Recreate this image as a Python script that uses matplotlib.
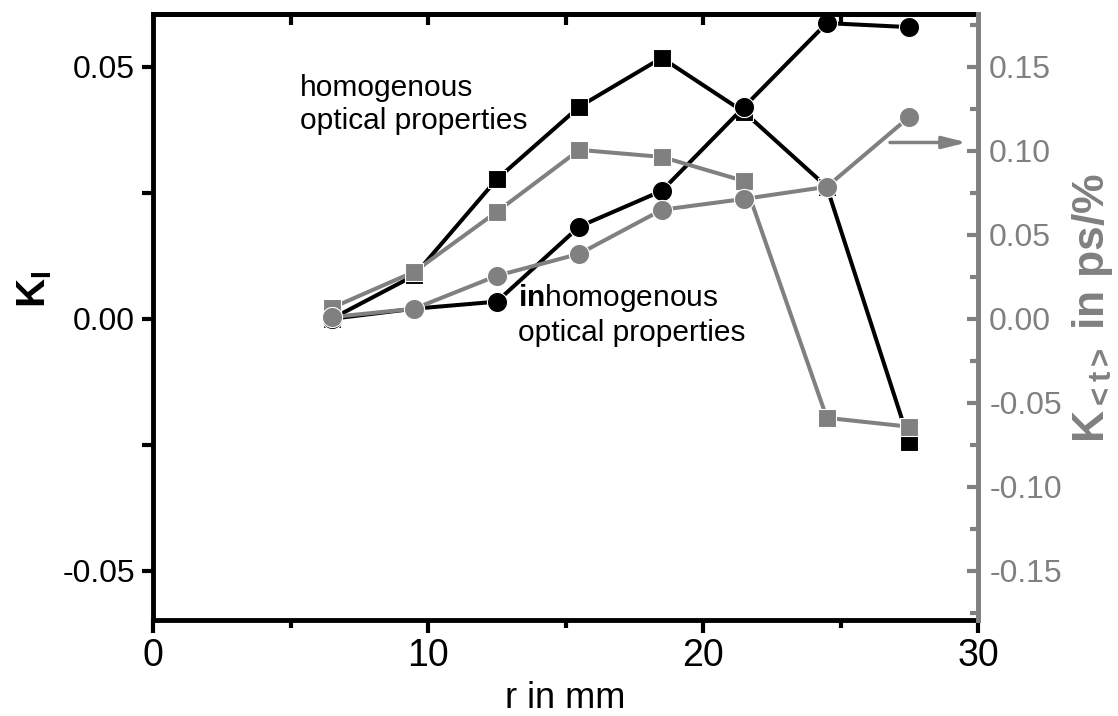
import numpy as np
import matplotlib.pyplot as plt
from matplotlib.ticker import FixedLocator, MultipleLocator, FormatStrFormatter

# radial distance of the detector positions
r = [6.5, 9.5, 12.5, 15.5, 18.5, 21.5, 24.5, 27.5]

# intensity coefficient K_I (left axis)
ki_hom = [0.0, 0.0086, 0.0277, 0.0421, 0.0518, 0.0410, 0.0262, -0.0244]
ki_inhom = [0.0, 0.0020, 0.0034, 0.0183, 0.0254, 0.0421, 0.0587, 0.0579]

# mean time of flight coefficient K_<t> in ps/% (right axis)
kt_hom = [0.0065, 0.0280, 0.0637, 0.1006, 0.0964, 0.0820, -0.0590, -0.0643]
kt_inhom = [0.0010, 0.0060, 0.0256, 0.0387, 0.0649, 0.0714, 0.0786, 0.1202]

left_ticks = [-0.05, 0.0, 0.05]
right_ticks = [-0.15, -0.10, -0.05, 0.0, 0.05, 0.10, 0.15]
bottom_ticks = [0, 10, 20, 30]
top_ticks = [5, 10, 15, 20, 25]

if __name__ == "__main__":
    plt.rcParams['font.family'] = ['Liberation Sans', 'DejaVu Sans']
    plt.rcParams['mathtext.fontset'] = 'custom'
    plt.rcParams['mathtext.rm'] = 'Liberation Sans'
    plt.rcParams['mathtext.bf'] = 'Liberation Sans:bold'
    plt.rcParams['mathtext.it'] = 'Liberation Sans:italic'
    plt.rcParams['axes.unicode_minus'] = False

    gray = '#808080'

    fig = plt.figure(figsize=(11.18, 7.16), dpi=100)
    ax = fig.add_axes([0.1369, 0.1341, 0.7379, 0.8463])
    ax2 = ax.twinx()

    # black: intensity, gray: time of flight
    style = dict(lw=2.9, mec='white', mew=0.8, clip_on=False)
    ax.plot(r, ki_hom, '-s', color='k', ms=12.5, **style)
    ax.plot(r, ki_inhom, '-o', color='k', ms=14.5, **style)
    ax2.plot(r, kt_hom, '-s', color=gray, ms=12.5, **style)
    ax2.plot(r, kt_inhom, '-o', color=gray, ms=14.5, **style)

    ax.set_xlim(0, 30)
    ax.set_ylim(-0.0598, 0.0605)
    ax2.set_ylim(-0.1794, 0.1815)

    # left axis
    ax.yaxis.set_major_locator(FixedLocator(left_ticks))
    ax.yaxis.set_minor_locator(MultipleLocator(0.025))
    ax.yaxis.set_major_formatter(FormatStrFormatter('%.2f'))
    ax.tick_params(axis='y', which='both', direction='out', length=8, width=3,
                   labelsize=23, pad=5)
    ax.set_ylabel(r'K$_{\mathbf{I}}$', fontsize=29, fontweight='bold')
    ax.yaxis.set_label_coords(-0.12, 0.546)

    # bottom axis
    ax.xaxis.set_major_locator(FixedLocator(bottom_ticks))
    ax.xaxis.set_minor_locator(MultipleLocator(5))
    ax.tick_params(axis='x', which='major', direction='out', length=9, width=3,
                   labelsize=27, pad=4)
    ax.tick_params(axis='x', which='minor', direction='out', length=6, width=3)
    ax.set_xlabel('r in mm', fontsize=26, labelpad=5)

    # top axis, inward ticks only
    sec = ax.secondary_xaxis('top')
    sec.set_xticks(top_ticks)
    sec.tick_params(direction='in', length=8, width=3, labeltop=False)
    sec.spines['top'].set_linewidth(3.5)

    for side in ['left', 'top', 'bottom']:
        ax.spines[side].set_linewidth(3.5)
        ax2.spines[side].set_visible(False)
    ax.spines['right'].set_visible(False)
    ax2.spines['right'].set_color(gray)
    ax2.spines['right'].set_linewidth(3.6)

    # right axis
    ax2.yaxis.set_major_locator(FixedLocator(right_ticks))
    ax2.yaxis.set_minor_locator(MultipleLocator(0.025))
    ax2.yaxis.set_major_formatter(FormatStrFormatter('%.2f'))
    ax2.tick_params(axis='y', which='major', direction='in', length=8, width=3,
                    color=gray, labelcolor=gray, labelsize=23, pad=8)
    ax2.tick_params(axis='y', which='minor', direction='in', length=6, width=3,
                    color=gray)
    ax2.set_ylabel(r'K$_{\mathbf{<t>}}$ in ps/%', fontsize=32, fontweight='bold',
                   color=gray, rotation=90)
    ax2.yaxis.set_label_coords(1.111, 0.515)

    # annotations
    ax.text(5.35, 0.0442, 'homogenous', fontsize=21.5, va='baseline')
    ax.text(5.35, 0.0376, 'optical properties', fontsize=21.5, va='baseline')
    ax.text(13.27, 0.0025, r'$\mathbf{in}$homogenous', fontsize=21.5, va='baseline')
    ax.text(13.27, -0.0044, 'optical properties', fontsize=21.5, va='baseline')

    ax2.annotate('', xy=(29.6, 0.105), xytext=(26.8, 0.105),
                 arrowprops=dict(arrowstyle='-|>,head_length=0.8,head_width=0.2',
                                 color=gray, lw=2.5, mutation_scale=18,
                                 shrinkA=0, shrinkB=0))

    fig.savefig('out.png', dpi=100)
